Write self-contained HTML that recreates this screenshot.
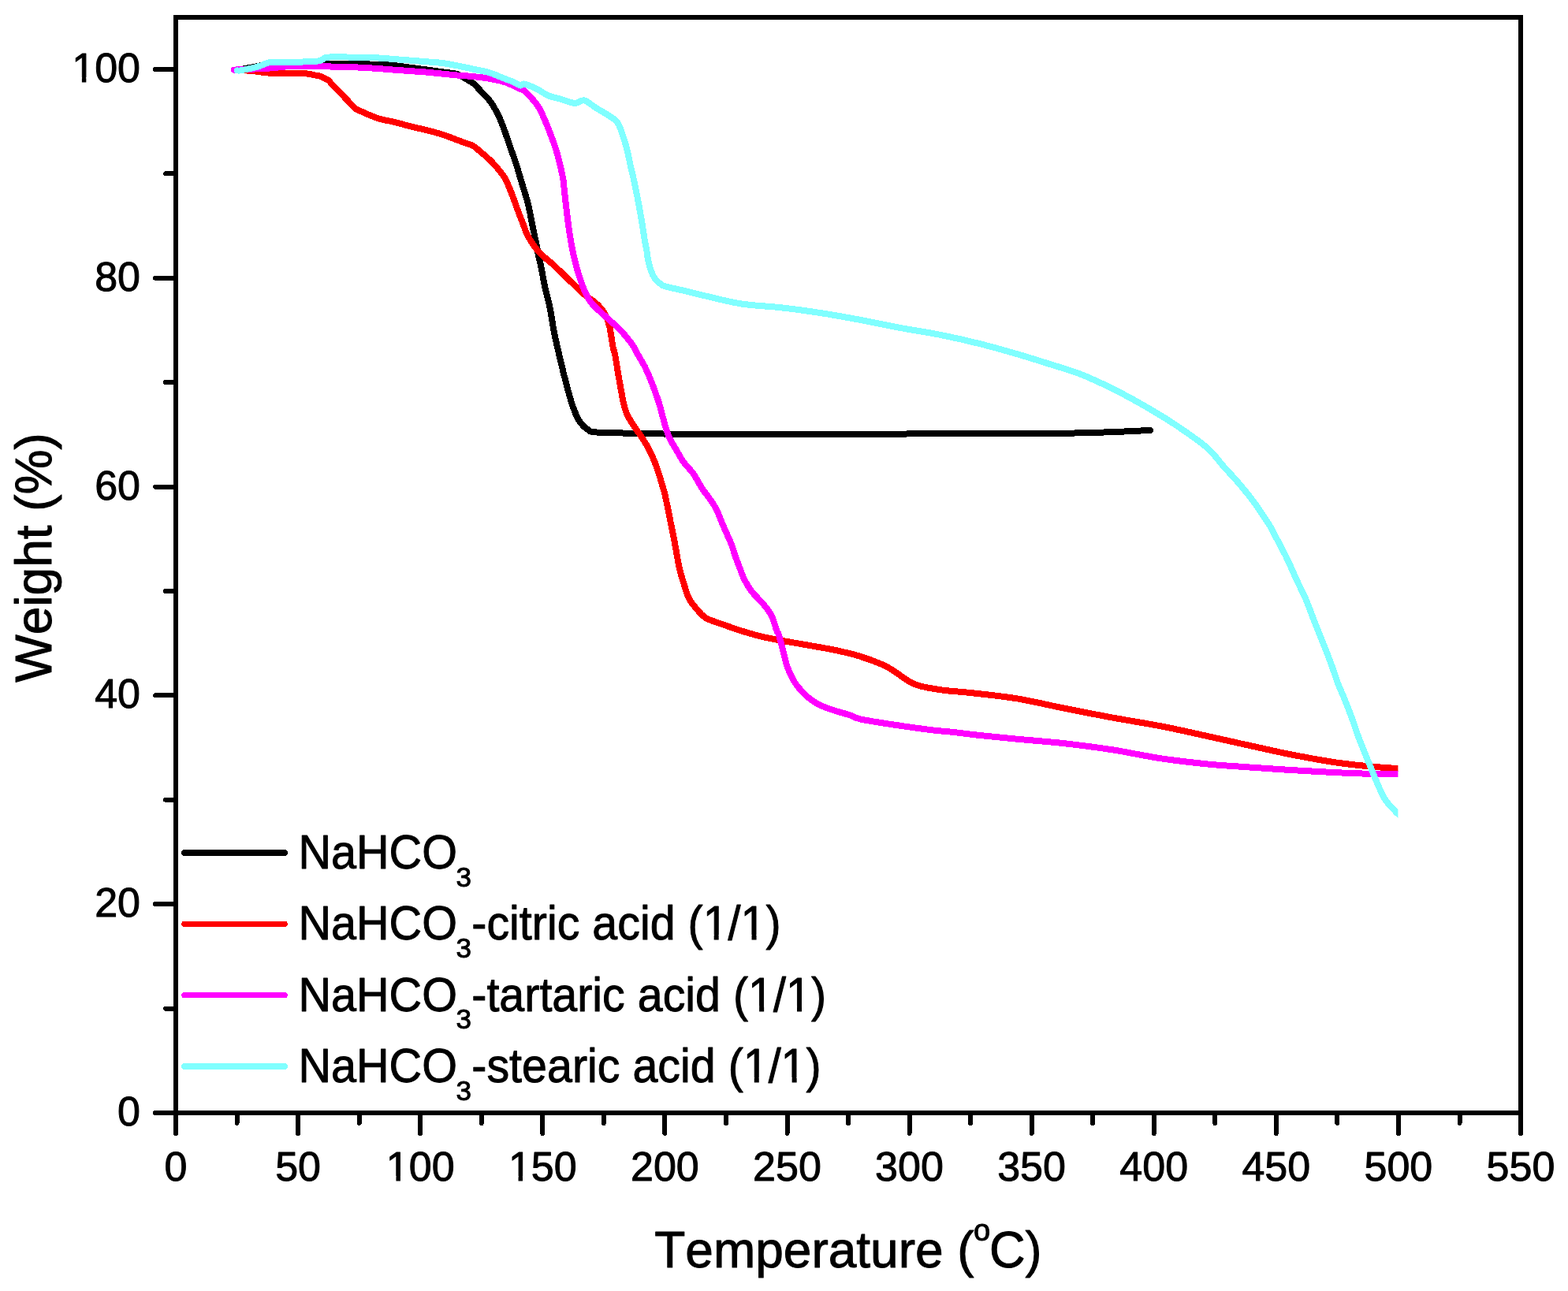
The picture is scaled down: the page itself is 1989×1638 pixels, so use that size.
<!DOCTYPE html>
<html><head><meta charset="utf-8"><title>TGA</title>
<style>html,body{margin:0;padding:0;background:#fff;} svg{display:block;} text{font-kerning:none;stroke:#000;stroke-width:1px;stroke-linejoin:round;}</style>
</head><body>
<svg width="1989" height="1638" viewBox="0 0 1989 1638">
<rect x="0" y="0" width="1989" height="1638" fill="#fff"/>
<defs><clipPath id="pc"><rect x="0" y="0" width="1773.4" height="1638"/></clipPath></defs>
<g fill="none" stroke-linejoin="round" stroke-linecap="round" clip-path="url(#pc)" shape-rendering="crispEdges">
<path d="M301.0,88.5C302.5,88.3 306.8,87.7 310.0,87.2C313.2,86.7 316.7,85.9 320.0,85.3C323.3,84.7 325.8,84.0 330.0,83.4C334.2,82.8 336.7,82.1 345.0,81.6C353.3,81.1 367.8,80.8 380.0,80.6C392.2,80.4 408.0,80.5 418.0,80.6C428.0,80.6 428.3,80.7 440.0,80.9C451.7,81.2 476.0,81.5 488.0,82.1C500.0,82.7 502.5,83.4 512.0,84.6C521.5,85.8 537.0,87.9 545.0,89.0C553.0,90.1 554.2,90.2 560.0,91.1C565.8,91.9 575.0,92.7 580.0,94.1C585.0,95.5 586.6,97.6 590.0,99.6C593.4,101.5 597.2,103.2 600.5,105.8C603.8,108.4 606.4,112.0 609.5,115.2C612.6,118.4 616.3,121.8 619.0,125.1C621.7,128.3 623.5,130.7 625.9,134.7C628.3,138.7 631.2,144.4 633.5,149.3C635.8,154.2 637.6,159.1 639.4,164.0C641.2,168.9 642.8,173.8 644.5,178.7C646.2,183.6 647.9,188.4 649.6,193.3C651.3,198.2 653.2,203.1 654.8,208.0C656.4,212.9 657.6,217.7 659.1,222.6C660.6,227.5 662.0,232.4 663.5,237.3C665.0,242.2 666.6,247.1 668.0,252.0C669.4,256.9 670.5,261.7 671.6,266.6C672.7,271.5 673.5,276.4 674.5,281.3C675.5,286.2 676.5,291.1 677.5,296.0C678.5,300.9 679.5,305.7 680.5,310.6C681.5,315.5 682.3,320.4 683.3,325.3C684.3,330.2 685.5,334.2 686.7,340.0C687.9,345.8 688.6,351.7 690.4,360.2C692.2,368.7 695.5,380.7 697.6,390.8C699.7,400.9 700.8,411.1 702.8,421.0C704.8,430.9 707.0,440.3 709.3,450.2C711.6,460.1 714.0,470.2 716.6,480.3C719.2,490.4 722.9,503.8 724.9,510.5C726.9,517.2 727.4,517.6 728.5,520.5C729.6,523.4 730.3,525.6 731.5,528.0C732.7,530.4 733.9,532.8 735.5,535.0C737.1,537.2 739.2,539.8 741.0,541.5C742.8,543.2 744.6,544.4 746.5,545.5C748.4,546.6 746.8,547.6 752.5,548.2C758.2,548.8 766.0,548.9 780.7,549.3C795.5,549.7 820.9,550.2 841.0,550.5C861.1,550.8 881.5,550.8 901.3,550.8C921.1,550.8 888.5,550.6 960.0,550.5C1031.5,550.4 1246.8,550.8 1330.0,550.0C1413.2,549.2 1437.5,546.7 1459.0,546.0" stroke="#000" stroke-width="8"/>
<path d="M299.0,88.8C301.2,88.9 307.7,89.1 312.0,89.4C316.3,89.7 320.1,90.1 325.0,90.6C329.9,91.1 334.6,92.2 341.3,92.6C348.1,93.0 357.4,93.0 365.5,93.2C373.6,93.4 383.9,93.1 389.6,93.5C395.4,93.9 397.3,95.0 400.0,95.5C402.7,96.0 404.0,96.1 405.7,96.6C407.4,97.1 408.0,97.5 410.0,98.5C412.0,99.5 416.0,101.3 417.7,102.6C419.4,103.9 418.0,103.8 420.1,106.1C422.2,108.3 426.9,112.7 430.2,116.1C433.5,119.5 436.8,123.2 440.2,126.7C443.6,130.2 446.9,134.7 450.3,137.3C453.7,139.9 455.3,140.1 460.3,142.3C465.3,144.5 473.7,148.4 480.4,150.5C487.1,152.6 493.9,153.2 500.6,154.9C507.3,156.6 514.0,158.7 520.7,160.4C527.4,162.1 534.1,163.4 540.8,165.1C547.5,166.8 554.3,168.5 560.9,170.6C567.5,172.7 575.3,175.9 580.2,177.7C585.1,179.5 586.9,180.2 590.3,181.5C593.6,182.8 596.9,183.2 600.3,185.2C603.6,187.2 607.0,190.5 610.4,193.3C613.8,196.1 617.0,198.8 620.4,202.0C623.8,205.2 627.2,208.9 630.5,212.8C633.8,216.7 637.5,221.1 640.0,225.2C642.5,229.3 643.8,232.8 645.7,237.3C647.6,241.8 649.7,247.1 651.5,252.0C653.3,256.9 654.9,261.7 656.7,266.6C658.5,271.5 660.6,276.4 662.5,281.3C664.4,286.2 665.7,291.1 668.0,296.0C670.3,300.9 673.5,306.2 676.5,310.6C679.5,315.0 682.0,318.3 686.0,322.3C690.0,326.3 696.5,331.1 700.6,334.8C704.7,338.5 706.6,340.3 710.8,344.4C715.0,348.5 720.9,354.3 725.9,359.2C730.9,364.1 736.0,369.2 741.0,373.5C746.0,377.8 751.8,380.9 756.1,384.8C760.4,388.7 763.8,392.1 766.6,396.9C769.4,401.7 771.2,406.3 773.0,413.5C774.8,420.7 776.3,433.9 777.5,440.0C778.7,446.1 778.9,443.5 780.2,450.2C781.5,456.9 783.4,470.2 785.2,480.3C787.0,490.4 789.1,502.9 790.8,510.5C792.5,518.0 793.0,520.6 795.3,525.6C797.5,530.6 801.1,535.7 804.3,540.7C807.5,545.7 811.4,550.7 814.6,555.7C817.8,560.7 821.0,565.8 823.6,570.8C826.2,575.8 828.4,580.9 830.4,585.9C832.4,590.9 834.1,596.1 835.7,601.0C837.3,605.9 838.5,610.1 839.9,615.0C841.3,619.9 842.4,622.7 844.1,630.2C845.8,637.8 848.2,650.2 850.2,660.3C852.2,670.3 854.3,680.4 856.2,690.5C858.1,700.6 859.8,711.9 861.8,720.7C863.8,729.5 866.3,737.0 868.3,743.3C870.2,749.6 871.2,753.9 873.5,758.4C875.8,762.9 878.1,766.1 881.8,770.4C885.4,774.7 889.4,780.3 895.4,784.0C901.4,787.7 910.6,789.9 918.0,792.6C925.4,795.3 931.3,797.6 940.0,800.3C948.7,803.0 960.2,806.3 970.2,808.6C980.2,810.9 990.2,812.5 1000.3,814.3C1010.3,816.1 1020.4,817.8 1030.5,819.6C1040.6,821.4 1050.7,823.0 1060.7,825.2C1070.8,827.4 1080.8,829.6 1090.8,832.7C1100.8,835.8 1113.5,840.6 1121.0,844.0C1128.5,847.4 1131.1,849.6 1136.1,852.8C1141.1,856.0 1146.2,860.4 1151.2,863.3C1156.2,866.2 1158.7,868.0 1166.2,870.1C1173.7,872.2 1185.8,874.2 1196.4,875.7C1207.0,877.2 1214.3,877.1 1230.0,878.9C1245.7,880.7 1270.2,883.1 1290.3,886.4C1310.4,889.7 1330.6,894.8 1350.7,898.8C1370.8,902.8 1390.9,906.8 1411.0,910.5C1431.1,914.2 1453.1,917.6 1471.3,921.1C1489.5,924.6 1502.5,927.6 1520.0,931.4C1537.5,935.2 1557.5,939.9 1576.3,944.0C1595.1,948.1 1613.8,952.5 1632.6,956.3C1651.4,960.1 1672.5,964.0 1688.9,966.6C1705.3,969.2 1716.2,970.3 1731.1,971.8C1745.9,973.3 1770.2,974.9 1778.0,975.5" stroke="#ff0000" stroke-width="8" stroke-linecap="butt"/>
<circle cx="299" cy="88.8" r="4.0" fill="#ff0000" stroke="none"/>
<path d="M297.0,88.6C299.2,88.5 305.3,88.2 310.0,88.0C314.7,87.8 318.9,87.7 325.2,87.4C331.5,87.1 341.1,86.6 347.8,86.1C354.5,85.6 355.9,84.6 365.5,84.3C375.1,84.0 395.0,84.0 405.7,84.1C416.4,84.2 424.1,84.8 429.8,84.9C435.5,85.0 432.9,84.6 440.0,84.9C447.1,85.2 461.5,85.8 472.2,86.5C482.9,87.2 493.7,88.2 504.4,89.0C515.1,89.8 527.2,90.5 536.5,91.2C545.8,92.0 552.8,92.8 560.0,93.5C567.2,94.2 573.3,94.9 580.0,95.5C586.7,96.1 593.3,96.4 600.0,97.1C606.7,97.8 613.6,98.5 620.3,99.7C627.0,100.9 633.8,102.0 640.4,104.2C647.0,106.4 655.8,111.1 660.0,113.0C664.2,114.9 661.8,112.1 665.6,115.8C669.4,119.5 677.8,127.1 682.9,135.4C688.0,143.7 692.5,155.6 696.5,165.6C700.5,175.6 704.1,185.6 707.0,195.7C709.9,205.8 712.6,218.5 714.1,225.9C715.6,233.3 714.9,232.6 715.7,240.0C716.5,247.4 717.9,260.1 719.1,270.2C720.4,280.2 721.5,290.2 723.2,300.3C724.9,310.4 726.7,320.4 729.2,330.5C731.7,340.6 734.9,351.9 738.3,360.7C741.6,369.5 743.8,376.0 749.3,383.3C754.8,390.6 765.1,398.6 771.2,404.4C777.4,410.2 781.2,412.7 786.2,418.0C791.2,423.3 797.4,430.6 801.3,436.0C805.1,441.4 806.5,445.3 809.3,450.2C812.1,455.1 815.3,460.2 817.9,465.2C820.5,470.2 822.6,475.3 824.7,480.3C826.8,485.3 828.6,490.4 830.4,495.4C832.2,500.4 834.1,505.5 835.7,510.5C837.3,515.5 838.4,520.6 839.8,525.6C841.2,530.6 842.4,535.7 844.0,540.7C845.6,545.7 847.0,550.7 849.3,555.7C851.6,560.7 855.0,565.8 857.9,570.8C860.8,575.8 863.3,580.9 866.9,585.9C870.5,590.9 875.5,595.3 879.5,601.0C883.5,606.7 887.6,615.1 890.8,620.0C893.9,624.9 895.5,626.0 898.4,630.2C901.3,634.4 905.5,640.2 908.2,645.2C910.9,650.2 912.5,655.3 914.6,660.3C916.8,665.3 918.9,670.4 921.1,675.4C923.3,680.4 925.9,685.5 927.8,690.5C929.7,695.5 930.9,700.6 932.7,705.6C934.5,710.6 936.5,715.7 938.4,720.7C940.3,725.7 941.8,730.7 944.4,735.7C947.0,740.7 949.9,745.8 953.8,750.8C957.7,755.8 963.6,760.9 967.8,765.9C971.9,770.9 975.8,775.3 978.7,781.0C981.6,786.7 983.7,796.0 985.2,800.0C986.7,804.0 986.7,801.8 987.8,805.2C988.9,808.6 990.8,815.8 992.0,820.3C993.2,824.8 994.0,828.2 995.0,832.2C996.0,836.2 996.7,840.3 998.1,844.4C999.5,848.5 1001.2,852.5 1003.2,856.6C1005.2,860.7 1007.2,864.7 1010.2,868.8C1013.2,872.9 1017.5,877.6 1020.9,881.0C1024.3,884.4 1027.2,886.6 1030.5,889.0C1033.8,891.4 1036.2,893.0 1041.0,895.1C1045.8,897.2 1053.3,899.8 1059.4,901.8C1065.5,903.8 1072.5,905.5 1077.7,907.3C1082.9,909.0 1083.6,910.6 1090.8,912.3C1098.0,914.0 1110.9,916.0 1121.0,917.6C1131.1,919.2 1141.2,920.7 1151.2,922.1C1161.2,923.5 1171.2,925.0 1181.3,926.2C1191.3,927.4 1201.7,928.1 1211.5,929.2C1221.3,930.3 1226.9,931.3 1240.0,932.7C1253.1,934.1 1271.8,935.9 1290.3,937.7C1308.8,939.5 1330.6,941.0 1350.7,943.3C1370.8,945.6 1390.9,948.2 1411.0,951.3C1431.1,954.4 1451.5,959.1 1471.3,962.1C1491.1,965.1 1512.5,967.5 1530.0,969.3C1547.5,971.1 1559.2,971.7 1576.3,972.9C1593.4,974.1 1613.8,975.5 1632.6,976.7C1651.4,977.9 1672.5,979.1 1688.9,979.9C1705.3,980.7 1716.2,981.2 1731.1,981.6C1745.9,982.0 1770.2,982.2 1778.0,982.3" stroke="#ff00ff" stroke-width="8" stroke-linecap="butt"/>
<circle cx="297" cy="88.6" r="4.0" fill="#ff00ff" stroke="none"/>
<path d="M301.0,89.4C301.7,89.4 302.3,89.8 305.0,89.4C307.7,89.0 313.2,87.9 317.2,87.0C321.2,86.1 324.9,85.2 329.2,83.9C333.5,82.6 336.8,79.7 342.9,78.9C348.9,78.1 357.7,79.0 365.5,78.9C373.3,78.8 382.9,78.6 389.6,78.3C396.3,78.0 402.0,77.9 405.7,77.1C409.4,76.3 410.0,74.3 412.0,73.5C414.0,72.7 413.0,72.7 417.7,72.5C422.4,72.3 430.9,72.4 440.0,72.5C449.1,72.6 461.5,72.5 472.2,73.0C482.9,73.5 493.7,74.6 504.4,75.4C515.1,76.2 527.2,77.2 536.5,77.9C545.8,78.7 552.8,79.0 560.0,79.9C567.2,80.8 573.3,82.0 580.0,83.3C586.7,84.6 593.3,86.1 600.0,87.6C606.7,89.0 613.6,90.0 620.3,92.0C627.0,94.0 635.4,98.0 640.4,99.9C645.4,101.9 647.2,102.3 650.5,103.7C653.8,105.1 657.6,108.0 660.0,108.5C662.4,109.0 661.5,105.8 665.0,106.5C668.5,107.2 675.6,110.3 680.7,112.8C685.8,115.3 690.7,119.3 695.7,121.4C700.7,123.5 705.3,124.0 710.8,125.6C716.3,127.2 723.9,130.6 728.9,130.9C733.9,131.2 736.5,126.4 741.0,127.4C745.5,128.4 751.0,133.8 756.0,136.9C761.0,140.0 766.7,143.0 771.2,146.0C775.7,149.0 779.8,150.8 782.8,154.7C785.8,158.6 787.3,164.4 789.1,169.3C790.9,174.2 792.4,179.1 793.8,184.0C795.2,188.9 796.3,193.8 797.4,198.7C798.5,203.6 799.3,208.4 800.4,213.3C801.5,218.2 802.9,223.1 804.0,228.0C805.1,232.9 806.0,237.7 807.0,242.6C808.0,247.5 809.0,252.4 809.9,257.3C810.8,262.2 811.6,267.1 812.5,272.0C813.4,276.9 814.2,281.7 815.0,286.6C815.8,291.5 816.4,296.4 817.2,301.3C818.0,306.2 819.1,311.1 820.0,316.0C820.9,320.9 821.2,325.7 822.3,330.6C823.4,335.5 825.0,341.3 826.5,345.3C828.0,349.3 829.8,352.1 831.5,354.5C833.2,356.9 835.0,358.1 837.0,359.5C839.0,360.9 838.6,361.7 843.3,363.2C848.0,364.7 857.5,366.4 865.3,368.3C873.1,370.2 877.8,371.5 890.3,374.4C902.8,377.3 923.9,382.9 940.6,385.5C957.4,388.1 974.0,388.4 990.8,390.3C1007.5,392.2 1024.3,394.5 1041.1,397.1C1057.9,399.7 1074.6,402.8 1091.4,405.9C1108.2,409.0 1125.0,412.8 1141.7,415.9C1158.5,419.0 1175.2,421.3 1191.9,424.7C1208.7,428.1 1225.4,431.8 1242.2,436.0C1259.0,440.2 1277.9,445.6 1292.5,449.9C1307.1,454.1 1317.0,457.4 1330.0,461.5C1343.0,465.6 1356.8,469.4 1370.2,474.6C1383.6,479.8 1397.0,486.1 1410.4,492.7C1423.8,499.3 1437.3,506.7 1450.7,514.4C1464.1,522.1 1477.5,529.9 1490.9,538.9C1504.3,547.9 1521.0,559.5 1531.1,568.1C1541.1,576.8 1544.5,583.3 1551.2,590.8C1557.9,598.3 1564.6,605.1 1571.3,613.0C1578.0,620.9 1584.7,628.9 1591.4,638.1C1598.1,647.3 1607.1,661.3 1611.5,668.3C1615.9,675.3 1614.2,673.6 1617.6,680.0C1621.0,686.4 1627.3,697.9 1631.7,706.9C1636.1,715.9 1639.7,724.8 1643.8,733.7C1647.9,742.7 1652.8,751.6 1656.6,760.6C1660.4,769.6 1663.4,778.5 1666.9,787.5C1670.4,796.5 1674.2,805.3 1677.7,814.3C1681.2,823.2 1684.8,832.2 1688.1,841.2C1691.4,850.2 1695.1,861.5 1697.5,868.0C1699.9,874.5 1699.9,873.3 1702.6,880.0C1705.3,886.7 1710.3,898.8 1713.8,908.2C1717.3,917.6 1720.2,926.9 1723.7,936.3C1727.2,945.7 1731.2,955.1 1735.0,964.5C1738.8,973.9 1743.0,984.4 1746.6,992.6C1750.2,1000.8 1752.8,1007.8 1756.5,1013.7C1760.2,1019.6 1764.9,1023.9 1768.5,1027.8C1772.1,1031.7 1776.4,1035.5 1778.0,1037.0" stroke="#80ffff" stroke-width="8" stroke-linecap="butt"/>
<circle cx="301" cy="89.4" r="4.0" fill="#80ffff" stroke="none"/>
</g>
<rect x="223" y="22" width="1706" height="1390" fill="none" stroke="#000" stroke-width="6"/>
<g stroke="#000" stroke-width="6" stroke-linecap="round" shape-rendering="crispEdges">
<line x1="223.0" y1="1412" x2="223.0" y2="1438"/>
<line x1="300.5" y1="1412" x2="300.5" y2="1425"/>
<line x1="378.1" y1="1412" x2="378.1" y2="1438"/>
<line x1="455.6" y1="1412" x2="455.6" y2="1425"/>
<line x1="533.2" y1="1412" x2="533.2" y2="1438"/>
<line x1="610.7" y1="1412" x2="610.7" y2="1425"/>
<line x1="688.3" y1="1412" x2="688.3" y2="1438"/>
<line x1="765.8" y1="1412" x2="765.8" y2="1425"/>
<line x1="843.4" y1="1412" x2="843.4" y2="1438"/>
<line x1="920.9" y1="1412" x2="920.9" y2="1425"/>
<line x1="998.5" y1="1412" x2="998.5" y2="1438"/>
<line x1="1076.0" y1="1412" x2="1076.0" y2="1425"/>
<line x1="1153.5" y1="1412" x2="1153.5" y2="1438"/>
<line x1="1231.1" y1="1412" x2="1231.1" y2="1425"/>
<line x1="1308.6" y1="1412" x2="1308.6" y2="1438"/>
<line x1="1386.2" y1="1412" x2="1386.2" y2="1425"/>
<line x1="1463.7" y1="1412" x2="1463.7" y2="1438"/>
<line x1="1541.3" y1="1412" x2="1541.3" y2="1425"/>
<line x1="1618.8" y1="1412" x2="1618.8" y2="1438"/>
<line x1="1696.4" y1="1412" x2="1696.4" y2="1425"/>
<line x1="1773.9" y1="1412" x2="1773.9" y2="1438"/>
<line x1="1851.5" y1="1412" x2="1851.5" y2="1425"/>
<line x1="1929.0" y1="1412" x2="1929.0" y2="1438"/>
<line x1="223" y1="1412.0" x2="197" y2="1412.0"/>
<line x1="223" y1="1279.6" x2="210" y2="1279.6"/>
<line x1="223" y1="1147.2" x2="197" y2="1147.2"/>
<line x1="223" y1="1014.8" x2="210" y2="1014.8"/>
<line x1="223" y1="882.4" x2="197" y2="882.4"/>
<line x1="223" y1="750.0" x2="210" y2="750.0"/>
<line x1="223" y1="617.6" x2="197" y2="617.6"/>
<line x1="223" y1="485.2" x2="210" y2="485.2"/>
<line x1="223" y1="352.8" x2="197" y2="352.8"/>
<line x1="223" y1="220.4" x2="210" y2="220.4"/>
<line x1="223" y1="88.0" x2="197" y2="88.0"/>
</g>
<g font-family="'Liberation Sans', Arial, sans-serif" font-size="52" fill="#000" text-anchor="middle">
<text x="223.0" y="1497.5">0</text>
<text x="378.1" y="1497.5">50</text>
<text x="533.2" y="1497.5">100</text>
<text x="688.3" y="1497.5">150</text>
<text x="843.4" y="1497.5">200</text>
<text x="998.5" y="1497.5">250</text>
<text x="1153.5" y="1497.5">300</text>
<text x="1308.6" y="1497.5">350</text>
<text x="1463.7" y="1497.5">400</text>
<text x="1618.8" y="1497.5">450</text>
<text x="1773.9" y="1497.5">500</text>
<text x="1929.0" y="1497.5">550</text>
</g>
<g font-family="'Liberation Sans', Arial, sans-serif" font-size="52" fill="#000" text-anchor="end">
<text x="178" y="1428.0">0</text>
<text x="178" y="1163.2">20</text>
<text x="178" y="898.4">40</text>
<text x="178" y="633.6">60</text>
<text x="178" y="368.8">80</text>
<text x="178" y="104.0">100</text>
</g>
<text font-family="'Liberation Sans', Arial, sans-serif" font-size="64" x="830.2" y="1608">Temperature (</text>
<text font-family="'Liberation Sans', Arial, sans-serif" font-size="38" x="1235" y="1573.5">o</text>
<text font-family="'Liberation Sans', Arial, sans-serif" font-size="64" transform="translate(1255,1608) scale(0.985,1)">C)</text>
<text font-family="'Liberation Sans', Arial, sans-serif" font-size="64" transform="translate(64.7,707.4) rotate(-90)" text-anchor="middle">Weight (%)</text>
<line x1="234" y1="1082.0" x2="361" y2="1082.0" stroke="#000" stroke-width="7.5" stroke-linecap="round" shape-rendering="crispEdges"/>
<text font-family="'Liberation Sans', Arial, sans-serif" font-size="61" transform="translate(378.4,1102.0) scale(0.944,1)">NaHCO</text>
<text font-family="'Liberation Sans', Arial, sans-serif" font-size="35" x="578.4" y="1124.6">3</text>
<line x1="234" y1="1172.3" x2="361" y2="1172.3" stroke="#ff0000" stroke-width="7.5" stroke-linecap="round" shape-rendering="crispEdges"/>
<text font-family="'Liberation Sans', Arial, sans-serif" font-size="61" transform="translate(378.4,1192.3) scale(0.944,1)">NaHCO</text>
<text font-family="'Liberation Sans', Arial, sans-serif" font-size="35" x="578.4" y="1214.8999999999999">3</text>
<text font-family="'Liberation Sans', Arial, sans-serif" font-size="61" transform="translate(598.3,1192.3) scale(0.941,1)">-citric acid (1/1)</text>
<line x1="234" y1="1262.7" x2="361" y2="1262.7" stroke="#ff00ff" stroke-width="7.5" stroke-linecap="round" shape-rendering="crispEdges"/>
<text font-family="'Liberation Sans', Arial, sans-serif" font-size="61" transform="translate(378.4,1282.7) scale(0.944,1)">NaHCO</text>
<text font-family="'Liberation Sans', Arial, sans-serif" font-size="35" x="578.4" y="1305.3">3</text>
<text font-family="'Liberation Sans', Arial, sans-serif" font-size="61" transform="translate(598.3,1282.7) scale(0.941,1)">-tartaric acid (1/1)</text>
<line x1="234" y1="1353.0" x2="361" y2="1353.0" stroke="#80ffff" stroke-width="7.5" stroke-linecap="round" shape-rendering="crispEdges"/>
<text font-family="'Liberation Sans', Arial, sans-serif" font-size="61" transform="translate(378.4,1373.0) scale(0.944,1)">NaHCO</text>
<text font-family="'Liberation Sans', Arial, sans-serif" font-size="35" x="578.4" y="1395.6">3</text>
<text font-family="'Liberation Sans', Arial, sans-serif" font-size="61" transform="translate(598.3,1373.0) scale(0.941,1)">-stearic acid (1/1)</text>
<rect x="491.83" y="1492" width="10.61" height="7" fill="#fff"/>
<rect x="507.91" y="1492" width="9.95" height="7" fill="#fff"/>
<rect x="646.92" y="1492" width="10.61" height="7" fill="#fff"/>
<rect x="663.00" y="1492" width="9.95" height="7" fill="#fff"/>
<rect x="93.27" y="98" width="10.61" height="7" fill="#fff"/>
<rect x="109.34" y="98" width="9.95" height="7" fill="#fff"/>
<rect x="893.94" y="1186" width="11.72" height="8" fill="#fff"/>
<rect x="911.68" y="1186" width="10.99" height="8" fill="#fff"/>
<rect x="941.81" y="1186" width="11.72" height="8" fill="#fff"/>
<rect x="959.55" y="1186" width="10.99" height="8" fill="#fff"/>
<rect x="951.39" y="1276" width="11.72" height="8" fill="#fff"/>
<rect x="969.14" y="1276" width="10.99" height="8" fill="#fff"/>
<rect x="999.27" y="1276" width="11.72" height="8" fill="#fff"/>
<rect x="1017.01" y="1276" width="10.99" height="8" fill="#fff"/>
<rect x="945.03" y="1367" width="11.72" height="7" fill="#fff"/>
<rect x="962.77" y="1367" width="10.99" height="7" fill="#fff"/>
<rect x="992.90" y="1367" width="11.72" height="7" fill="#fff"/>
<rect x="1010.65" y="1367" width="10.99" height="7" fill="#fff"/>
</svg>
</body></html>
